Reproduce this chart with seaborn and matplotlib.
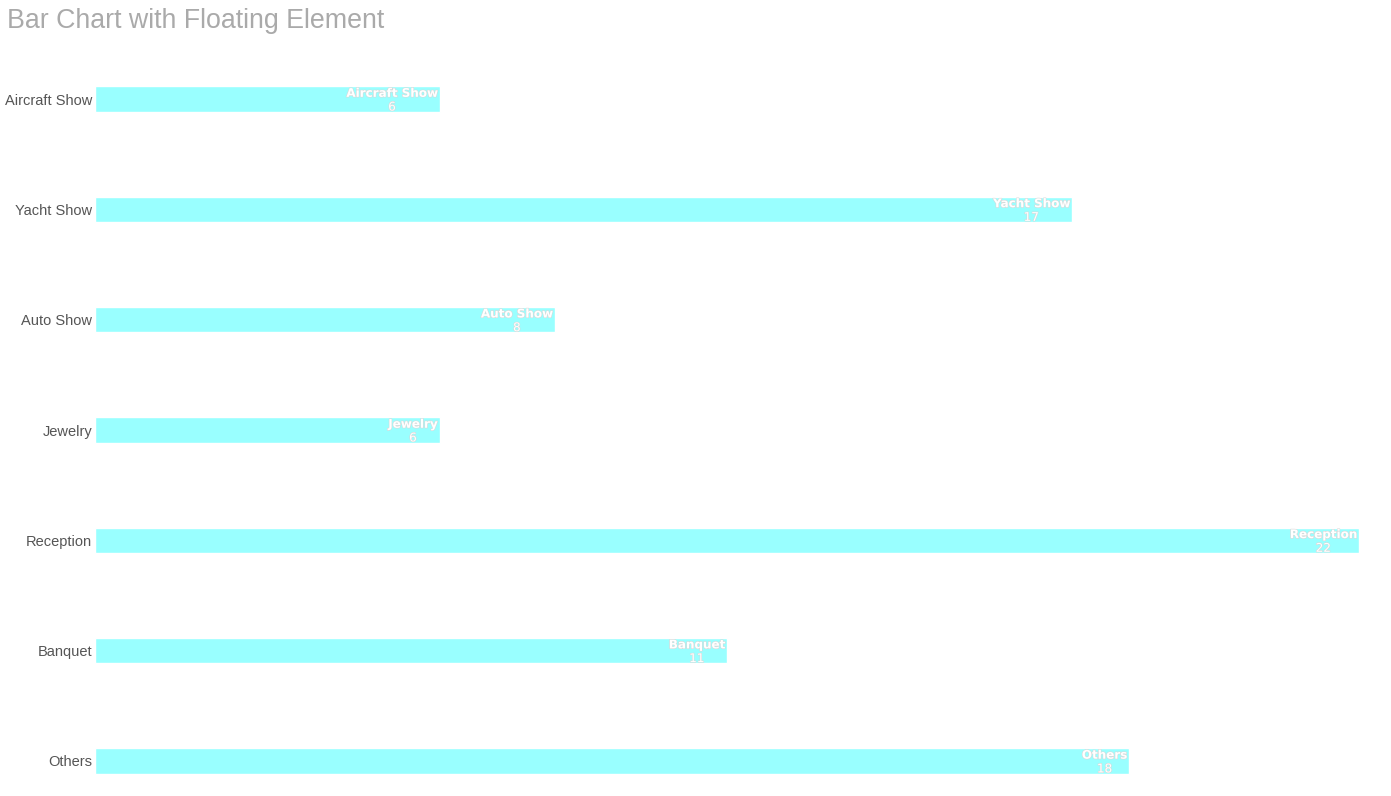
import numpy as np
import pandas as pd
import seaborn as sns
import matplotlib.pyplot as plt
import matplotlib.patheffects as pe

categories = ["Aircraft Show", "Yacht Show", "Auto Show", "Jewelry", "Reception", "Banquet", "Others"]
values = [6, 17, 8, 6, 22, 11, 18]

df = pd.DataFrame({"category": categories, "value": values})

sns.set_theme(style="white")
plt.rcParams["font.family"] = ["Liberation Sans", "DejaVu Sans"]

fig = plt.figure(figsize=(13.91, 7.96), dpi=100)
ax = fig.add_axes([95 / 1391, 0, (1359 - 95) / 1391, 1 - 44 / 796])

sns.barplot(data=df, x="value", y="category", orient="h", color="#99ffff",
            saturation=1, width=0.23, ax=ax)

ax.set_xlim(0, 22)
ax.set_ylim(6 + 35 / 110.3, -0.5)
sns.despine(ax=ax, left=True, bottom=True)
ax.set_xticks([])
ax.set_xlabel("")
ax.set_ylabel("")
ax.tick_params(axis="y", length=0, pad=2, labelsize=10.5, labelcolor="#555555")

shadow = [pe.withStroke(linewidth=0.8, foreground="#d8d8d8")]
for i, (cat, val) in enumerate(zip(categories, values)):
    t = ax.annotate(cat, xy=(val, i), xytext=(-1.5, -0.5), textcoords="offset points",
                    ha="right", va="bottom", fontsize=8.6, fontweight="bold",
                    color="white", family="DejaVu Sans", path_effects=shadow)
    fig.canvas.draw()
    bb = t.get_window_extent()
    cx = ax.transData.inverted().transform(((bb.x0 + bb.x1) / 2, 0))[0]
    ax.annotate(str(val), xy=(cx, i), xytext=(0, -1), textcoords="offset points",
                ha="center", va="top", fontsize=8.6, color="white",
                family="DejaVu Sans", path_effects=shadow)

fig.text(7 / 1391, 1 - 21 / 796, "Bar Chart with Floating Element", fontsize=19.3,
         color="#aaaaaa", ha="left", va="center")

fig.savefig("out.png", dpi=100)
